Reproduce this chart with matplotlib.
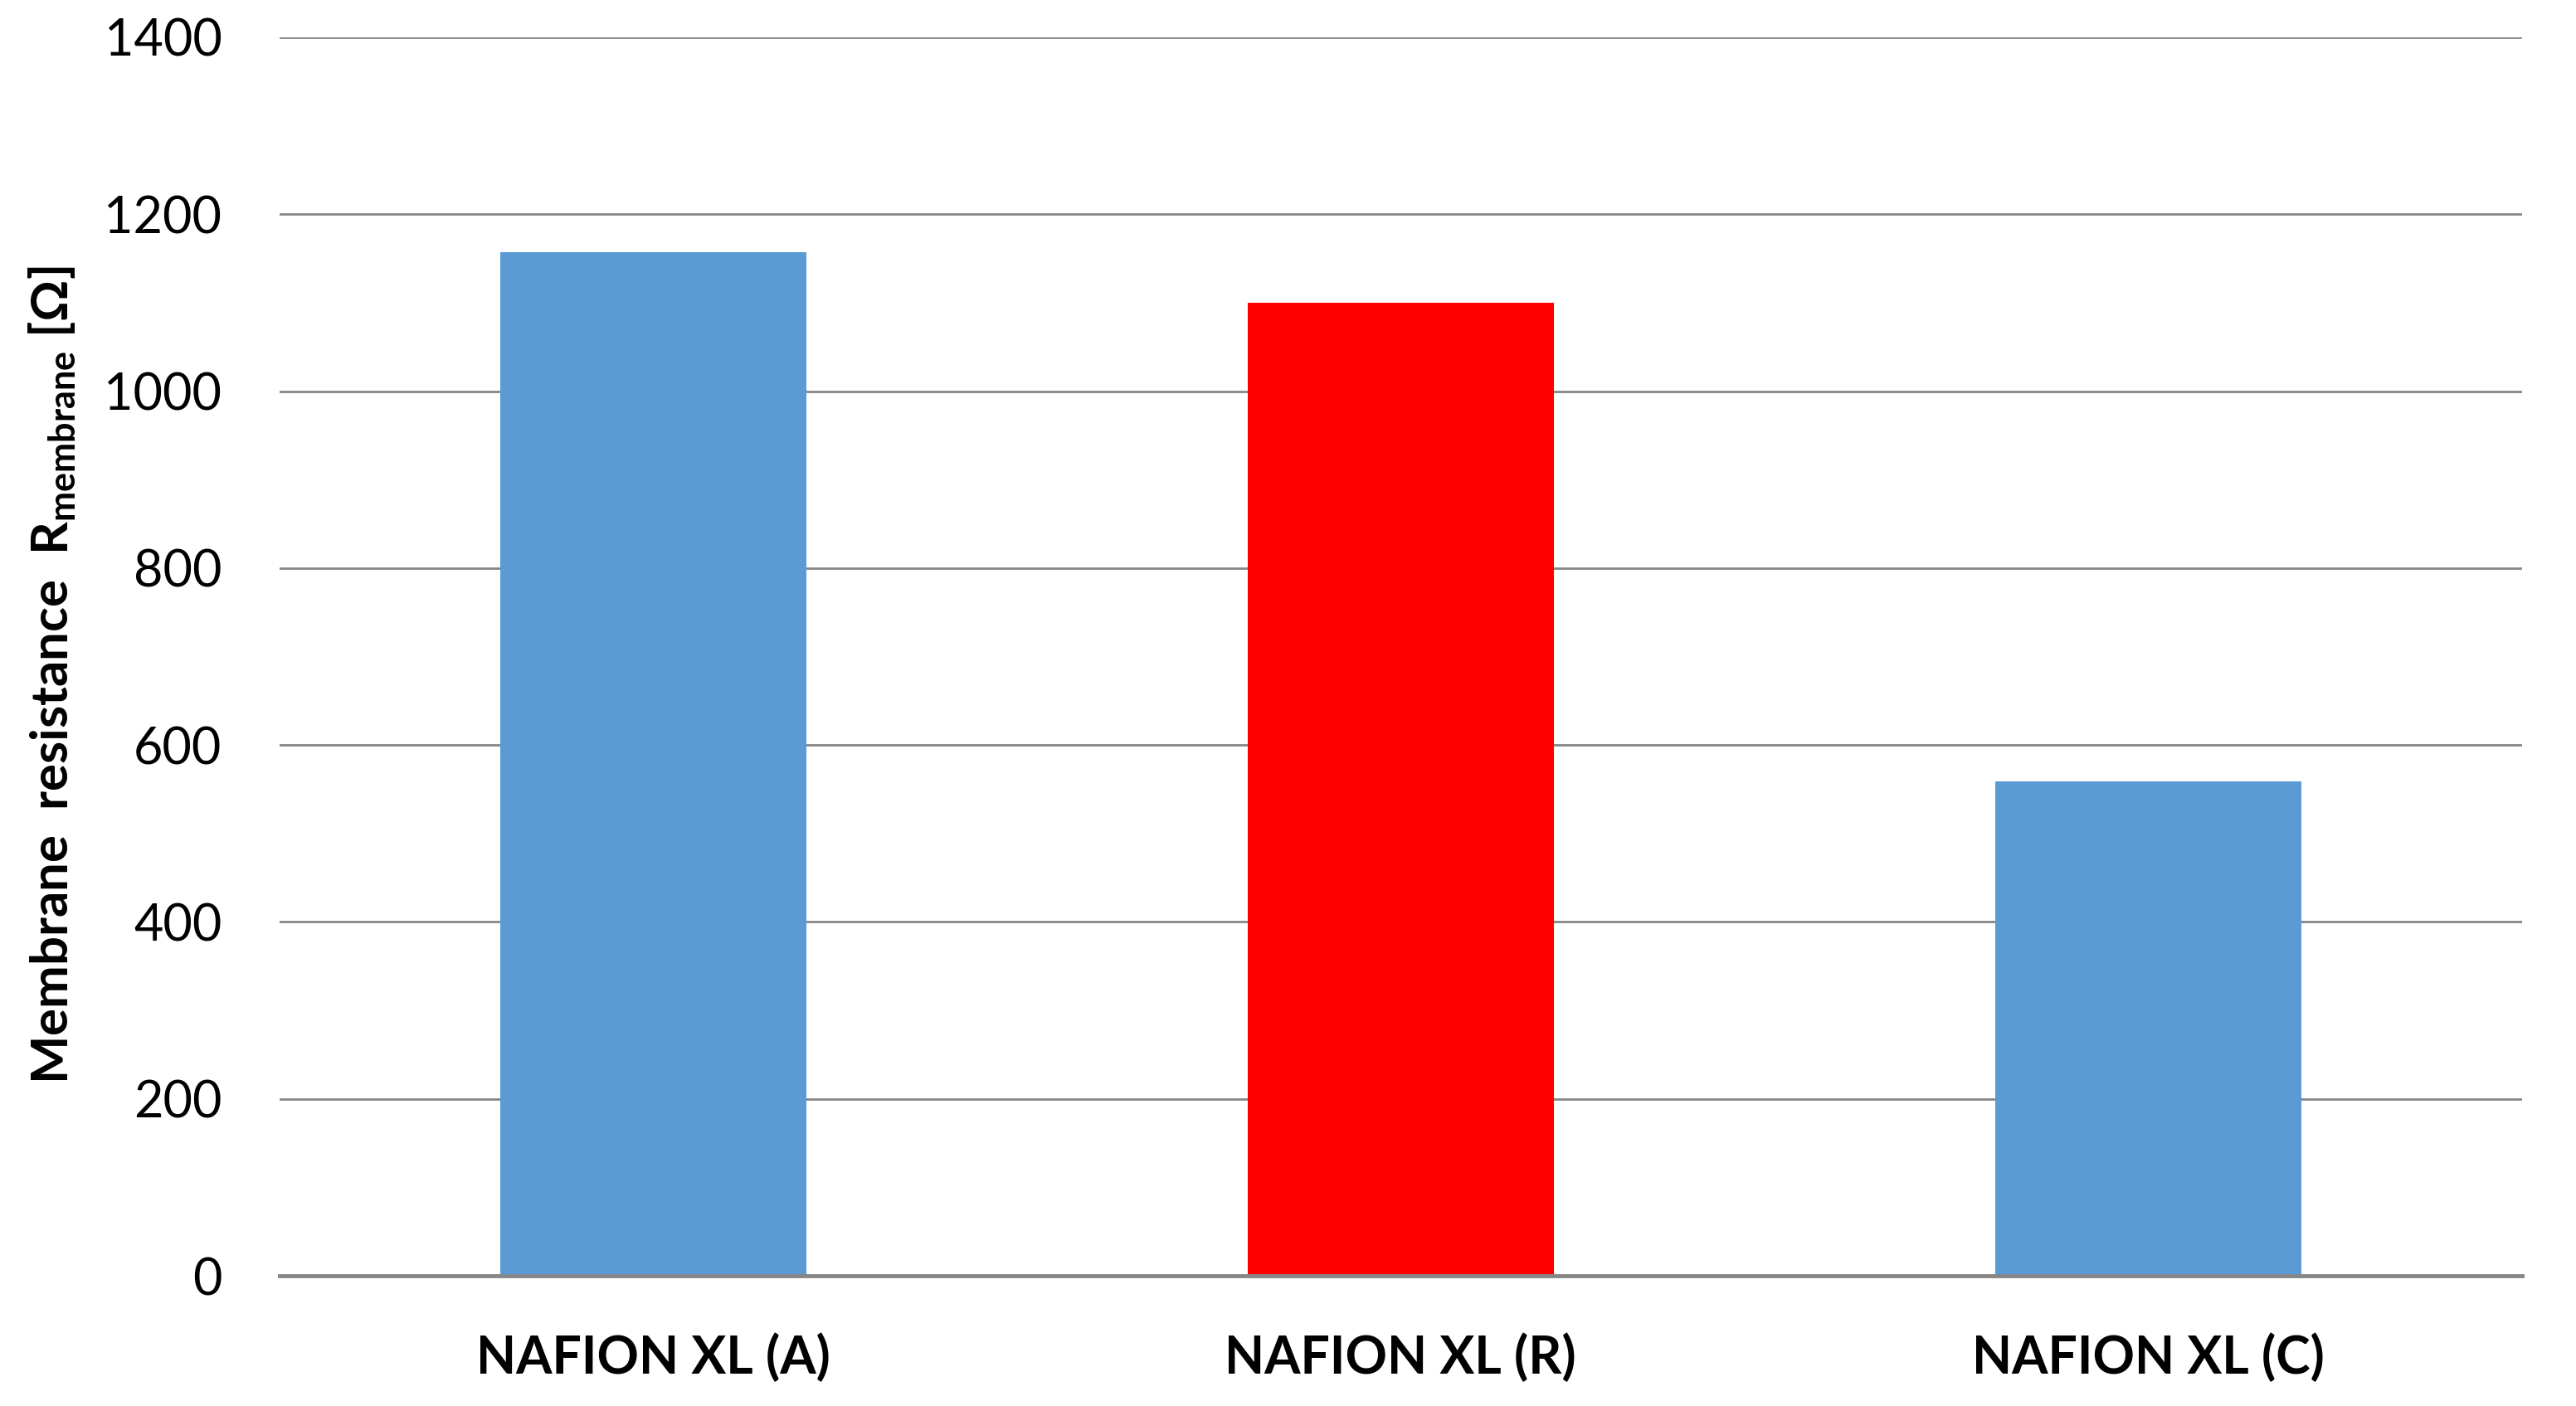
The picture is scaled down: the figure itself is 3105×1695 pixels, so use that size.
import numpy as np
import matplotlib
matplotlib.use("Agg")
from matplotlib import pyplot as plt

# data
membranes = ["NAFION XL (A)", "NAFION XL (R)", "NAFION XL (C)"]
resistance = [1157, 1100, 559]
bar_colors = ["#5B9BD5", "#FF0000", "#5B9BD5"]
y_ticks = [0, 200, 400, 600, 800, 1000, 1200, 1400]

plt.rcParams['font.family'] = ['Lato', 'DejaVu Sans']
plt.rcParams['mathtext.default'] = 'regular'

fig = plt.figure(figsize=(31.05, 16.95), dpi=100)
ax = fig.add_axes([0.1085, 0.0926, 0.8705, 0.8809])

x = np.arange(len(membranes))
ax.bar(x, resistance, width=0.41, color=bar_colors, zorder=3)

ax.set_xlim(-0.5, len(membranes) - 0.5)
ax.set_ylim(0, 1400)
ax.set_yticks(y_ticks)
ax.yaxis.grid(True, color="#868686", linewidth=2.0, zorder=0)
ax.set_axisbelow(True)

for s in ["left", "right", "top"]:
    ax.spines[s].set_visible(False)
ax.spines["bottom"].set_color("#868686")
ax.spines["bottom"].set_linewidth(3.5)
ax.spines["bottom"].set_zorder(4)

ax.set_xticks(x)
ax.set_xticklabels(membranes, fontsize=45, fontweight="bold")
ax.tick_params(axis="x", length=0, pad=50)
ax.tick_params(axis="y", length=0, pad=50, labelsize=44)

ax.set_ylabel("Membrane  resistance  R$_{membrane}$ [Ω]", fontsize=44.5, fontweight="bold")
ax.yaxis.set_label_coords(-0.090, 0.485)

fig.savefig("out.png", dpi=100, facecolor="white")
